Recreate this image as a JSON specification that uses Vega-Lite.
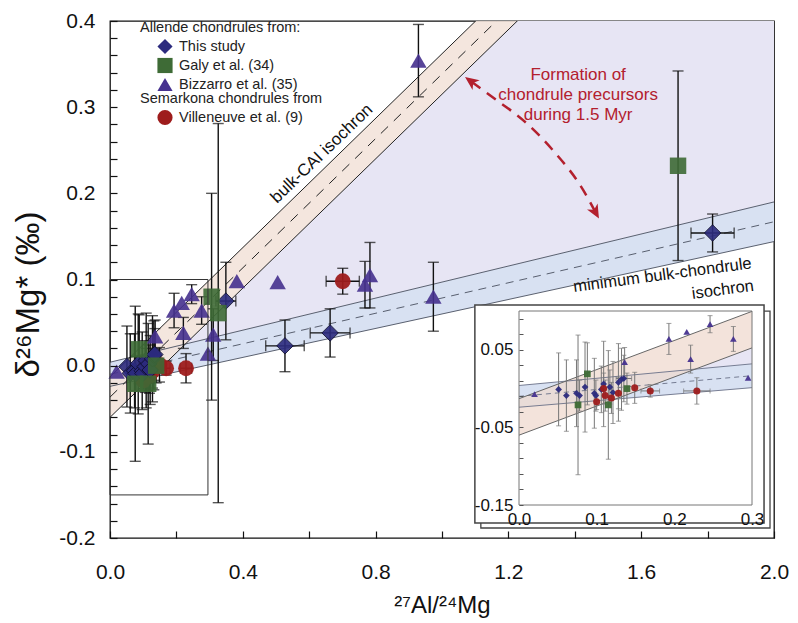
{
"$schema":"https://vega.github.io/schema/vega-lite/v6.json",
"width":664,"height":517,
"autosize":"none",
"padding":{"left":110,"top":21,"right":24,"bottom":85},
"background":"white",
"config":{"font":"Liberation Sans","view":{"stroke":"#111","strokeWidth":1.3},"axis":{"grid":false,"domain":false,"labelOverlap":false,"labelColor":"#111","titleColor":"#111","tickColor":"#111","zindex":1},
"legend":{"titleFontWeight":"normal","padding":0,"labelFontSize":14.5,"titleFontSize":14.5,"titleLimit":400,"labelLimit":400,"symbolSize":230,"rowPadding":3,"titlePadding":3,"symbolOffset":17,"labelOffset":6,"labelColor":"#222","titleColor":"#222","symbolStrokeWidth":0,"symbolOpacity":1}},
"datasets":{
"pts":[
{"src":"This study","x":0.051,"y":-0.001,"ex":0,"ey":0.047},
{"src":"This study","x":0.061,"y":-0.009,"ex":0,"ey":0.046},
{"src":"This study","x":0.074,"y":-0.006,"ex":0,"ey":0.043},
{"src":"This study","x":0.078,"y":-0.009,"ex":0,"ey":0.02},
{"src":"This study","x":0.085,"y":0.002,"ex":0,"ey":0.058},
{"src":"This study","x":0.097,"y":-0.006,"ex":0,"ey":0.045},
{"src":"This study","x":0.099,"y":-0.009,"ex":0,"ey":0.02},
{"src":"This study","x":0.106,"y":-0.001,"ex":0,"ey":0.03},
{"src":"This study","x":0.109,"y":0.006,"ex":0,"ey":0.055},
{"src":"This study","x":0.117,"y":0.002,"ex":0,"ey":0.022},
{"src":"This study","x":0.121,"y":-0.005,"ex":0,"ey":0.04},
{"src":"This study","x":0.128,"y":0.008,"ex":0,"ey":0.05},
{"src":"This study","x":0.132,"y":0.012,"ex":0,"ey":0.04},
{"src":"This study","x":0.135,"y":0.013,"ex":0.01,"ey":0.03},
{"src":"This study","x":0.349,"y":0.075,"ex":0.03,"ey":0.045},
{"src":"This study","x":0.527,"y":0.023,"ex":0.058,"ey":0.03},
{"src":"This study","x":0.663,"y":0.038,"ex":0.06,"ey":0.028},
{"src":"This study","x":1.815,"y":0.154,"ex":0.065,"ey":0.022},
{"src":"Galy et al. (34)","x":0.088,"y":0.019,"ex":0,"ey":0.04},
{"src":"Galy et al. (34)","x":0.076,"y":-0.021,"ex":0,"ey":0.09},
{"src":"Galy et al. (34)","x":0.115,"y":-0.021,"ex":0,"ey":0.07},
{"src":"Galy et al. (34)","x":0.139,"y":0.0,"ex":0,"ey":0.02},
{"src":"Galy et al. (34)","x":0.306,"y":0.08,"ex":0,"ey":0.12},
{"src":"Galy et al. (34)","x":0.326,"y":0.061,"ex":0,"ey":0.22},
{"src":"Galy et al. (34)","x":1.711,"y":0.232,"ex":0,"ey":0.11},
{"src":"Bizzarro et al. (35)","x":0.02,"y":-0.007,"ex":0,"ey":0},
{"src":"Bizzarro et al. (35)","x":0.136,"y":0.034,"ex":0,"ey":0.019},
{"src":"Bizzarro et al. (35)","x":0.193,"y":0.064,"ex":0,"ey":0.02},
{"src":"Bizzarro et al. (35)","x":0.216,"y":0.073,"ex":0,"ey":0},
{"src":"Bizzarro et al. (35)","x":0.221,"y":0.038,"ex":0,"ey":0.018},
{"src":"Bizzarro et al. (35)","x":0.246,"y":0.083,"ex":0,"ey":0.011},
{"src":"Bizzarro et al. (35)","x":0.276,"y":0.064,"ex":0,"ey":0.016},
{"src":"Bizzarro et al. (35)","x":0.295,"y":0.014,"ex":0,"ey":0},
{"src":"Bizzarro et al. (35)","x":0.311,"y":0.036,"ex":0,"ey":0.03},
{"src":"Bizzarro et al. (35)","x":0.382,"y":0.098,"ex":0,"ey":0},
{"src":"Bizzarro et al. (35)","x":0.505,"y":0.097,"ex":0,"ey":0},
{"src":"Bizzarro et al. (35)","x":0.768,"y":0.094,"ex":0,"ey":0.027},
{"src":"Bizzarro et al. (35)","x":0.783,"y":0.105,"ex":0,"ey":0.038},
{"src":"Bizzarro et al. (35)","x":0.929,"y":0.354,"ex":0,"ey":0.042},
{"src":"Bizzarro et al. (35)","x":0.974,"y":0.08,"ex":0,"ey":0.04},
{"src":"Villeneuve et al. (9)","x":0.1,"y":-0.017,"ex":0,"ey":0.01},
{"src":"Villeneuve et al. (9)","x":0.109,"y":0.0,"ex":0,"ey":0.02},
{"src":"Villeneuve et al. (9)","x":0.111,"y":-0.009,"ex":0,"ey":0.02},
{"src":"Villeneuve et al. (9)","x":0.119,"y":-0.012,"ex":0,"ey":0.02},
{"src":"Villeneuve et al. (9)","x":0.128,"y":-0.006,"ex":0,"ey":0.02},
{"src":"Villeneuve et al. (9)","x":0.149,"y":0.001,"ex":0,"ey":0.02},
{"src":"Villeneuve et al. (9)","x":0.169,"y":-0.003,"ex":0.012,"ey":0.008},
{"src":"Villeneuve et al. (9)","x":0.229,"y":-0.003,"ex":0.017,"ey":0.017},
{"src":"Villeneuve et al. (9)","x":0.701,"y":0.098,"ex":0.05,"ey":0.015}
],
"cai":[{"x":0,"lo":-0.06,"hi":-0.013,"mid":-0.0365},{"x":2,"lo":0.69,"hi":0.737,"mid":0.7135}],
"chon":[{"x":0,"lo":-0.024,"hi":0.004,"mid":-0.01},{"x":2,"lo":0.144,"hi":0.19,"mid":0.167}],
"lav":[{"x":0.227,"lo":0.0251,"hi":0.0251},{"x":2,"lo":0.19,"hi":0.69}],
"cai_in":[{"x":0,"lo":-0.06,"hi":-0.013,"mid":-0.0365},{"x":0.3,"lo":0.0525,"hi":0.0995,"mid":0.076}],
"chon_in":[{"x":0,"lo":-0.024,"hi":0.004,"mid":-0.01},{"x":0.3,"lo":0.0012,"hi":0.0319,"mid":0.0166}],
"lav_in":[{"x":0.227,"lo":0.0251,"hi":0.0251},{"x":0.3,"lo":0.0319,"hi":0.0525}],
"arrow":[{"x":1.089,"y":0.3295},{"x":1.165,"y":0.308},{"x":1.244,"y":0.285},{"x":1.334,"y":0.25},{"x":1.425,"y":0.204},{"x":1.461,"y":0.179}]
},
"resolve":{"scale":{"x":"independent","y":"independent"},"axis":{"x":"independent","y":"independent"}},
"layer":[
{"layer":[
{"data":{"name":"lav"},"mark":{"type":"area","color":"#e7e5f4","clip":true},
 "encoding":{
  "x":{"field":"x","type":"quantitative","scale":{"domain":[0,2],"nice":false,"zero":false},"title":"²⁷Al/²⁴Mg",
   "axis":{"orient":"bottom","zindex":1,"values":[0,0.4,0.8,1.2,1.6,2.0],"format":".1f","tickSize":-7,"tickWidth":1.2,"labelPadding":30,"labelFontSize":21,"labelFlush":false,"labelOverlap":false,"labelBound":false,"title":"²⁷Al/²⁴Mg","titleFontSize":24,"titleFontWeight":"normal","titleX":332,"titleY":67,"titleBaseline":"middle","titleAlign":"center"}},
  "y":{"field":"lo","type":"quantitative","scale":{"domain":[-0.2,0.4],"nice":false,"zero":false},"title":"δ²⁶Mg* (‰)",
   "axis":{"orient":"left","zindex":1,"values":[-0.2,-0.1,0,0.1,0.2,0.3,0.4],"labelExpr":"(datum.value < -0.001 ? '-' : '') + format(abs(datum.value),'.1f')","tickSize":-7,"tickWidth":1.2,"labelPadding":22,"labelFontSize":21,"labelOverlap":false,"labelBound":false,"labelFlush":false,"title":"δ²⁶Mg* (‰)","titleFontSize":33,"titleFontWeight":"normal","titleAngle":-90,"titleX":-82,"titleY":273,"titleAlign":"center","titleBaseline":"middle"}},
  "y2":{"field":"hi"}}},
{"data":{"name":"chon"},"mark":{"type":"area","color":"#d8e1f2","clip":true},
 "encoding":{"x":{"field":"x","type":"quantitative","scale":{"domain":[0,2],"nice":false,"zero":false},"title":"²⁷Al/²⁴Mg"},"y":{"field":"lo","type":"quantitative","scale":{"domain":[-0.2,0.4],"nice":false,"zero":false},"title":"δ²⁶Mg* (‰)"},"y2":{"field":"hi"}}},
{"data":{"name":"cai"},"mark":{"type":"area","color":"#f3e3da","opacity":0.88,"clip":true},
 "encoding":{"x":{"field":"x","type":"quantitative","scale":{"domain":[0,2],"nice":false,"zero":false},"title":"²⁷Al/²⁴Mg"},"y":{"field":"lo","type":"quantitative","scale":{"domain":[-0.2,0.4],"nice":false,"zero":false},"title":"δ²⁶Mg* (‰)"},"y2":{"field":"hi"}}},
{"data":{"name":"chon"},"transform":[{"fold":["lo","hi"],"as":["k","v"]}],"mark":{"type":"line","color":"#4a5060","strokeWidth":0.9,"clip":true},
 "encoding":{"x":{"field":"x","type":"quantitative","scale":{"domain":[0,2],"nice":false,"zero":false},"title":"²⁷Al/²⁴Mg"},"y":{"field":"v","type":"quantitative","scale":{"domain":[-0.2,0.4],"nice":false,"zero":false},"title":"δ²⁶Mg* (‰)"},"detail":{"field":"k","type":"nominal"}}},
{"data":{"name":"chon"},"mark":{"type":"line","color":"#4a5060","strokeWidth":0.9,"strokeDash":[8,6],"clip":true},
 "encoding":{"x":{"field":"x","type":"quantitative","scale":{"domain":[0,2],"nice":false,"zero":false},"title":"²⁷Al/²⁴Mg"},"y":{"field":"mid","type":"quantitative","scale":{"domain":[-0.2,0.4],"nice":false,"zero":false},"title":"δ²⁶Mg* (‰)"}}},
{"data":{"name":"cai"},"transform":[{"fold":["lo","hi"],"as":["k","v"]}],"mark":{"type":"line","color":"#222","strokeWidth":1,"clip":true},
 "encoding":{"x":{"field":"x","type":"quantitative","scale":{"domain":[0,2],"nice":false,"zero":false},"title":"²⁷Al/²⁴Mg"},"y":{"field":"v","type":"quantitative","scale":{"domain":[-0.2,0.4],"nice":false,"zero":false},"title":"δ²⁶Mg* (‰)"},"detail":{"field":"k","type":"nominal"}}},
{"data":{"name":"cai"},"mark":{"type":"line","color":"#222","strokeWidth":1,"strokeDash":[10,8],"clip":true},
 "encoding":{"x":{"field":"x","type":"quantitative","scale":{"domain":[0,2],"nice":false,"zero":false},"title":"²⁷Al/²⁴Mg"},"y":{"field":"mid","type":"quantitative","scale":{"domain":[-0.2,0.4],"nice":false,"zero":false},"title":"δ²⁶Mg* (‰)"}}},
{"data":{"name":"pts"},"transform":[{"filter":"datum.ey > 0"}],"mark":{"type":"errorbar","ticks":{"size":11,"thickness":1.4,"color":"#111"},"rule":{"strokeWidth":1.4,"color":"#111"}},
 "encoding":{"x":{"field":"x","type":"quantitative","scale":{"domain":[0,2],"nice":false,"zero":false},"title":"²⁷Al/²⁴Mg"},"y":{"field":"y","type":"quantitative","scale":{"domain":[-0.2,0.4],"nice":false,"zero":false},"title":"δ²⁶Mg* (‰)"},"yError":{"field":"ey"}}},
{"data":{"name":"pts"},"transform":[{"filter":"datum.ex > 0"}],"mark":{"type":"errorbar","ticks":{"size":11,"thickness":1.4,"color":"#111"},"rule":{"strokeWidth":1.4,"color":"#111"}},
 "encoding":{"y":{"field":"y","type":"quantitative","scale":{"domain":[-0.2,0.4],"nice":false,"zero":false},"title":"δ²⁶Mg* (‰)"},"x":{"field":"x","type":"quantitative","scale":{"domain":[0,2],"nice":false,"zero":false},"title":"²⁷Al/²⁴Mg"},"xError":{"field":"ex"}}},
{"data":{"name":"pts"},"transform":[{"filter":"datum.src == 'Villeneuve et al. (9)'"}],"mark":{"type":"point","filled":true,"shape":"circle","size":250,"opacity":0.95},
 "encoding":{"x":{"field":"x","type":"quantitative","scale":{"domain":[0,2],"nice":false,"zero":false},"title":"²⁷Al/²⁴Mg"},"y":{"field":"y","type":"quantitative","scale":{"domain":[-0.2,0.4],"nice":false,"zero":false},"title":"δ²⁶Mg* (‰)"},
  "fill":{"field":"src","type":"nominal","scale":{"domain":["Villeneuve et al. (9)"],"range":["#9e1c1c"]},"legend":{"orient":"none","legendX":30,"legendY":71,"title":"Semarkona chondrules from","symbolType":"circle","titleLimit":400}}}},
{"data":{"name":"pts"},"transform":[{"filter":"datum.src != 'Villeneuve et al. (9)'"}],"mark":{"type":"point","filled":true,"size":270,"opacity":0.9,"strokeWidth":1},
 "encoding":{"x":{"field":"x","type":"quantitative","scale":{"domain":[0,2],"nice":false,"zero":false},"title":"²⁷Al/²⁴Mg"},"y":{"field":"y","type":"quantitative","scale":{"domain":[-0.2,0.4],"nice":false,"zero":false},"title":"δ²⁶Mg* (‰)"},
  "color":{"field":"src","type":"nominal","scale":{"domain":["This study","Galy et al. (34)","Bizzarro et al. (35)"],"range":["#2c2b7e","#3e6b36","#46318f"]},"legend":{"orient":"none","legendX":30,"legendY":0,"title":"Allende chondrules from:","titleLimit":400}},
  "shape":{"field":"src","type":"nominal","scale":{"domain":["This study","Galy et al. (34)","Bizzarro et al. (35)"],"range":["diamond","square","triangle-up"]},"legend":{"orient":"none","legendX":30,"legendY":0,"title":"Allende chondrules from:","titleLimit":400}},
  "stroke":{"condition":{"test":"datum.src == 'This study'","value":"#101030"},"value":"transparent"}}},
{"data":{"values":[{"x":0.638,"y":0.246,"t":"bulk-CAI isochron"}]},"mark":{"type":"text","angle":316,"fontSize":17,"color":"#111","align":"center","baseline":"middle"},
 "encoding":{"x":{"field":"x","type":"quantitative","scale":{"domain":[0,2],"nice":false,"zero":false},"title":"²⁷Al/²⁴Mg"},"y":{"field":"y","type":"quantitative","scale":{"domain":[-0.2,0.4],"nice":false,"zero":false},"title":"δ²⁶Mg* (‰)"},"text":{"field":"t"}}},
{"data":{"values":[{"x":1.664,"y":0.105,"t":"minimum bulk-chondrule"}]},"mark":{"type":"text","angle":352.4,"fontSize":16.5,"color":"#111","align":"center","baseline":"middle"},
 "encoding":{"x":{"field":"x","type":"quantitative","scale":{"domain":[0,2],"nice":false,"zero":false},"title":"²⁷Al/²⁴Mg"},"y":{"field":"y","type":"quantitative","scale":{"domain":[-0.2,0.4],"nice":false,"zero":false},"title":"δ²⁶Mg* (‰)"},"text":{"field":"t"}}},
{"data":{"values":[{"x":1.846,"y":0.088,"t":"isochron"}]},"mark":{"type":"text","angle":352.4,"fontSize":16.5,"color":"#111","align":"center","baseline":"middle"},
 "encoding":{"x":{"field":"x","type":"quantitative","scale":{"domain":[0,2],"nice":false,"zero":false},"title":"²⁷Al/²⁴Mg"},"y":{"field":"y","type":"quantitative","scale":{"domain":[-0.2,0.4],"nice":false,"zero":false},"title":"δ²⁶Mg* (‰)"},"text":{"field":"t"}}},
{"data":{"values":[{"x":1.41,"y":0.337,"t":"Formation of\nchondrule precursors\nduring 1.5 Myr"}]},"mark":{"type":"text","fontSize":17,"color":"#b3202e","align":"center","baseline":"middle","lineBreak":"\n","lineHeight":20},
 "encoding":{"x":{"field":"x","type":"quantitative","scale":{"domain":[0,2],"nice":false,"zero":false},"title":"²⁷Al/²⁴Mg"},"y":{"field":"y","type":"quantitative","scale":{"domain":[-0.2,0.4],"nice":false,"zero":false},"title":"δ²⁶Mg* (‰)"},"text":{"field":"t"}}},
{"data":{"name":"arrow"},"mark":{"type":"line","color":"#b3202e","strokeWidth":2.5,"strokeDash":[11,8],"interpolate":"monotone"},
 "encoding":{"x":{"field":"x","type":"quantitative","scale":{"domain":[0,2],"nice":false,"zero":false},"title":"²⁷Al/²⁴Mg"},"y":{"field":"y","type":"quantitative","scale":{"domain":[-0.2,0.4],"nice":false,"zero":false},"title":"δ²⁶Mg* (‰)"}}},
{"data":{"values":[{"x":1.089,"y":0.3295}]},"mark":{"type":"point","filled":true,"shape":"M0,-1L0.75,0.7L0,0.25L-0.75,0.7Z","size":260,"angle":306,"color":"#b3202e","opacity":1},
 "encoding":{"x":{"field":"x","type":"quantitative","scale":{"domain":[0,2],"nice":false,"zero":false},"title":"²⁷Al/²⁴Mg"},"y":{"field":"y","type":"quantitative","scale":{"domain":[-0.2,0.4],"nice":false,"zero":false},"title":"δ²⁶Mg* (‰)"}}},
{"data":{"values":[{"x":1.461,"y":0.179}]},"mark":{"type":"point","filled":true,"shape":"M0,-1L0.75,0.7L0,0.25L-0.75,0.7Z","size":260,"angle":151,"color":"#b3202e","opacity":1},
 "encoding":{"x":{"field":"x","type":"quantitative","scale":{"domain":[0,2],"nice":false,"zero":false},"title":"²⁷Al/²⁴Mg"},"y":{"field":"y","type":"quantitative","scale":{"domain":[-0.2,0.4],"nice":false,"zero":false},"title":"δ²⁶Mg* (‰)"}}},
{"data":{"values":[{"x":0,"x2":0.295,"y":-0.15,"y2":0.1}]},"mark":{"type":"rect","fill":null,"fillOpacity":0,"stroke":"#333","strokeWidth":1},
 "encoding":{"x":{"field":"x","type":"quantitative","scale":{"domain":[0,2],"nice":false,"zero":false},"title":"²⁷Al/²⁴Mg"},"x2":{"field":"x2"},"y":{"field":"y","type":"quantitative","scale":{"domain":[-0.2,0.4],"nice":false,"zero":false},"title":"δ²⁶Mg* (‰)"},"y2":{"field":"y2"}}},
{"data":{"values":[{"x":1.117,"x2":1.988,"y":-0.1884,"y2":0.0634}]},"mark":{"type":"rect","fill":"white","stroke":"#444","strokeWidth":1.3},
 "encoding":{"x":{"field":"x","type":"quantitative","scale":{"domain":[0,2],"nice":false,"zero":false},"title":"²⁷Al/²⁴Mg"},"x2":{"field":"x2"},"y":{"field":"y","type":"quantitative","scale":{"domain":[-0.2,0.4],"nice":false,"zero":false},"title":"δ²⁶Mg* (‰)"},"y2":{"field":"y2"}}},
{"data":{"values":[{"x":1.099,"x2":1.97,"y":-0.1826,"y2":0.0704}]},"mark":{"type":"rect","fill":"white","stroke":"#444","strokeWidth":1.5},
 "encoding":{"x":{"field":"x","type":"quantitative","scale":{"domain":[0,2],"nice":false,"zero":false},"title":"²⁷Al/²⁴Mg"},"x2":{"field":"x2"},"y":{"field":"y","type":"quantitative","scale":{"domain":[-0.2,0.4],"nice":false,"zero":false},"title":"δ²⁶Mg* (‰)"},"y2":{"field":"y2"}}}
]},
{"data":{"name":"chon"},"mark":{"type":"point","opacity":0},
 "encoding":{
  "x":{"field":"x","type":"quantitative","scale":{"domain":[0,2],"nice":false,"zero":false},"title":null,
   "axis":{"orient":"bottom","zindex":1,"values":[0.2,0.6,1.0,1.4,1.8],"labels":false,"tickSize":-7,"tickWidth":1.2,"title":null,"domain":false}},
  "y":{"field":"lo","type":"quantitative","scale":{"domain":[-0.2,0.4],"nice":false,"zero":false},"title":null,
   "axis":{"orient":"left","zindex":1,"values":[-0.18,-0.16,-0.14,-0.12,-0.08,-0.06,-0.04,-0.02,0.02,0.04,0.06,0.08,0.12,0.14,0.16,0.18,0.22,0.24,0.26,0.28,0.32,0.34,0.36,0.38],"labels":false,"tickSize":-7,"tickWidth":1.2,"title":null,"domain":false}}}},
{"layer":[
{"data":{"name":"lav_in"},"mark":{"type":"area","color":"#e7e5f4"},
 "encoding":{
  "x":{"field":"x","type":"quantitative","scale":{"domain":[0,0.3],"range":[409,642],"nice":false,"zero":false},"title":null,
   "axis":{"orient":"bottom","zindex":2,"offset":-33,"values":[0,0.1,0.2,0.3],"format":".1f","ticks":false,"labelPadding":6,"labelFontSize":17,"labelFlush":false,"labelOverlap":false,"labelBound":false,"title":null,"domain":false}},
  "y":{"field":"lo","type":"quantitative","scale":{"domain":[-0.15,0.1],"range":[484,290],"nice":false,"zero":false},"title":null,
   "axis":{"orient":"left","zindex":2,"offset":-409,"values":[-0.15,-0.13,-0.11,-0.09,-0.07,-0.05,-0.03,-0.01,0.01,0.03,0.05,0.07,0.09],"labelExpr":"abs(datum.value-0.05)<0.001 ? '0.05' : abs(datum.value+0.05)<0.001 ? '-0.05' : abs(datum.value+0.15)<0.001 ? '-0.15' : ''","tickSize":-4,"tickColor":"#555","labelPadding":10,"labelFontSize":17,"labelOverlap":false,"labelBound":false,"labelFlush":false,"title":null,"domain":false}},
  "y2":{"field":"hi"}}},
{"data":{"name":"chon_in"},"mark":{"type":"area","color":"#d8e1f2"},
 "encoding":{"x":{"field":"x","type":"quantitative","scale":{"domain":[0,0.3],"range":[409,642],"nice":false,"zero":false},"title":null},"y":{"field":"lo","type":"quantitative","scale":{"domain":[-0.15,0.1],"range":[484,290],"nice":false,"zero":false},"title":null},"y2":{"field":"hi"}}},
{"data":{"name":"cai_in"},"mark":{"type":"area","color":"#efd9cf","opacity":0.75},
 "encoding":{"x":{"field":"x","type":"quantitative","scale":{"domain":[0,0.3],"range":[409,642],"nice":false,"zero":false},"title":null},"y":{"field":"lo","type":"quantitative","scale":{"domain":[-0.15,0.1],"range":[484,290],"nice":false,"zero":false},"title":null},"y2":{"field":"hi"}}},
{"data":{"name":"chon_in"},"transform":[{"fold":["lo","hi"],"as":["k","v"]}],"mark":{"type":"line","color":"#6a7088","strokeWidth":0.9},
 "encoding":{"x":{"field":"x","type":"quantitative","scale":{"domain":[0,0.3],"range":[409,642],"nice":false,"zero":false},"title":null},"y":{"field":"v","type":"quantitative","scale":{"domain":[-0.15,0.1],"range":[484,290],"nice":false,"zero":false},"title":null},"detail":{"field":"k","type":"nominal"}}},
{"data":{"name":"chon_in"},"mark":{"type":"line","color":"#6a7088","strokeWidth":0.9,"strokeDash":[5,4]},
 "encoding":{"x":{"field":"x","type":"quantitative","scale":{"domain":[0,0.3],"range":[409,642],"nice":false,"zero":false},"title":null},"y":{"field":"mid","type":"quantitative","scale":{"domain":[-0.15,0.1],"range":[484,290],"nice":false,"zero":false},"title":null}}},
{"data":{"name":"cai_in"},"transform":[{"fold":["lo","hi"],"as":["k","v"]}],"mark":{"type":"line","color":"#666","strokeWidth":1},
 "encoding":{"x":{"field":"x","type":"quantitative","scale":{"domain":[0,0.3],"range":[409,642],"nice":false,"zero":false},"title":null},"y":{"field":"v","type":"quantitative","scale":{"domain":[-0.15,0.1],"range":[484,290],"nice":false,"zero":false},"title":null},"detail":{"field":"k","type":"nominal"}}},
{"data":{"name":"pts"},"transform":[{"filter":"datum.x <= 0.3 && datum.ey > 0"}],"mark":{"type":"errorbar","ticks":{"size":5,"thickness":1,"color":"#777"},"rule":{"strokeWidth":1,"color":"#777"}},
 "encoding":{"x":{"field":"x","type":"quantitative","scale":{"domain":[0,0.3],"range":[409,642],"nice":false,"zero":false},"title":null},"y":{"field":"y","type":"quantitative","scale":{"domain":[-0.15,0.1],"range":[484,290],"nice":false,"zero":false},"title":null},"yError":{"field":"ey"}}},
{"data":{"name":"pts"},"transform":[{"filter":"datum.x <= 0.3 && datum.ex > 0"}],"mark":{"type":"errorbar","ticks":{"size":5,"thickness":1,"color":"#777"},"rule":{"strokeWidth":1,"color":"#777"}},
 "encoding":{"y":{"field":"y","type":"quantitative","scale":{"domain":[-0.15,0.1],"range":[484,290],"nice":false,"zero":false},"title":null},"x":{"field":"x","type":"quantitative","scale":{"domain":[0,0.3],"range":[409,642],"nice":false,"zero":false},"title":null},"xError":{"field":"ex"}}},
{"data":{"name":"pts"},"transform":[{"filter":"datum.x <= 0.3 && datum.src != 'Villeneuve et al. (9)'"}],"mark":{"type":"point","filled":true,"size":45,"opacity":0.95},
 "encoding":{"x":{"field":"x","type":"quantitative","scale":{"domain":[0,0.3],"range":[409,642],"nice":false,"zero":false},"title":null},"y":{"field":"y","type":"quantitative","scale":{"domain":[-0.15,0.1],"range":[484,290],"nice":false,"zero":false},"title":null},
  "color":{"field":"src","type":"nominal"},"shape":{"field":"src","type":"nominal"}}},
{"data":{"name":"pts"},"transform":[{"filter":"datum.x <= 0.3 && datum.src == 'Villeneuve et al. (9)'"}],"mark":{"type":"point","filled":true,"shape":"circle","size":50,"opacity":0.95},
 "encoding":{"x":{"field":"x","type":"quantitative","scale":{"domain":[0,0.3],"range":[409,642],"nice":false,"zero":false},"title":null},"y":{"field":"y","type":"quantitative","scale":{"domain":[-0.15,0.1],"range":[484,290],"nice":false,"zero":false},"title":null},
  "fill":{"field":"src","type":"nominal"}}},
{"data":{"values":[{"x":0,"x2":0.3,"y":-0.15,"y2":0.1}]},"mark":{"type":"rect","fill":null,"fillOpacity":0,"stroke":"#777","strokeWidth":1},
 "encoding":{"x":{"field":"x","type":"quantitative","scale":{"domain":[0,0.3],"range":[409,642],"nice":false,"zero":false},"title":null},"x2":{"field":"x2"},"y":{"field":"y","type":"quantitative","scale":{"domain":[-0.15,0.1],"range":[484,290],"nice":false,"zero":false},"title":null},"y2":{"field":"y2"}}}
]}
]
}
